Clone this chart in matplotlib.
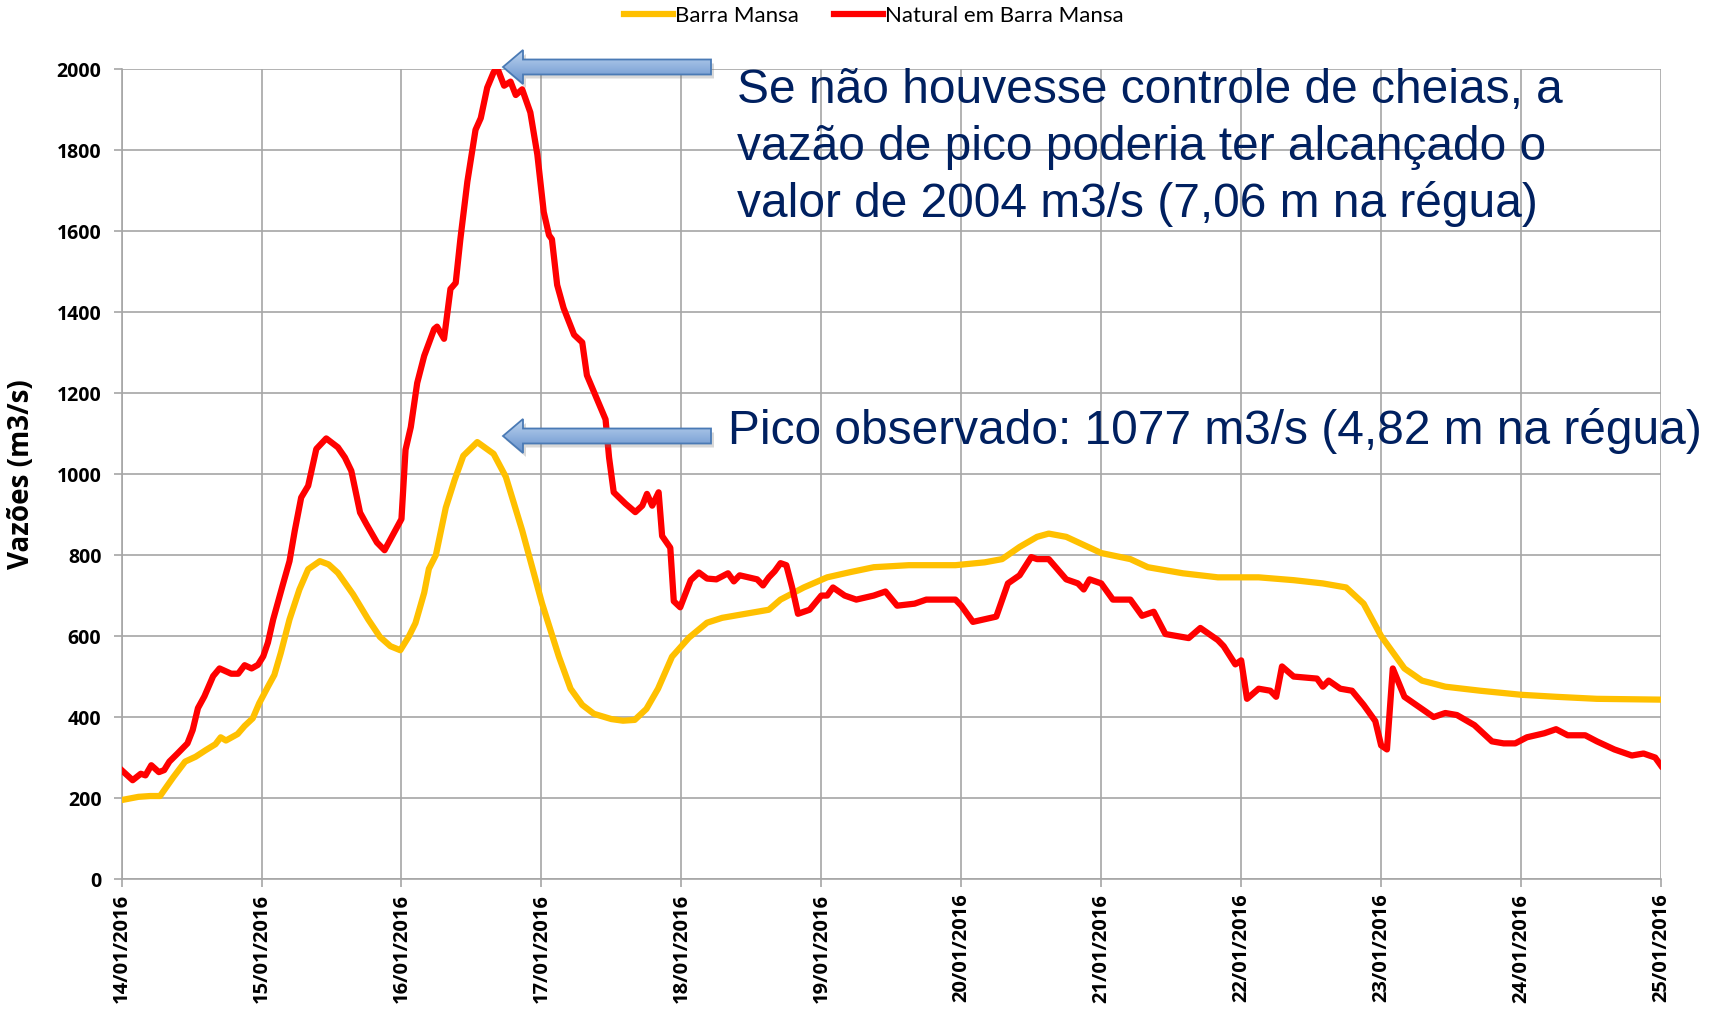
#!/usr/bin/env python
# encoding: utf-8

import numpy as np
import matplotlib
matplotlib.use("Agg")
import matplotlib.pyplot as plt
import matplotlib.dates as mdates
from matplotlib.patches import Polygon

# Hours since 14/01/2016 00:00 and flows (m3/s), 10 values per row
barra_mansa_h = [0, 2.9, 4.9, 6.6, 8.9, 10.9, 12.7, 14.4, 16.1, 17.0,
                 17.9, 19.9, 21.1, 22.5, 23.6, 25.1, 26.2, 27.3, 28.8, 30.5,
                 32.0, 34.0, 35.5, 37.1, 39.7, 42.3, 44.3, 46.1, 47.8, 49.3,
                 50.4, 51.9, 52.7, 53.9, 55.6, 57.1, 58.6, 61.0, 63.8, 65.9,
                 68.7, 72.1, 75.0, 77, 79, 81, 84, 86, 88, 90,
                 92, 94.4, 97.3, 100.4, 103, 107, 111, 113, 117, 121,
                 125, 129, 135, 143, 148, 151, 154, 157, 159, 162,
                 165, 168, 173, 176, 182, 188, 195, 201, 206, 210,
                 213, 216, 220, 223, 227, 233, 240, 246, 253, 264]
barra_mansa = [195, 203, 205, 205, 252, 290, 302, 318, 333, 350,
               342, 358, 378, 397, 434, 475, 504, 558, 641, 715,
               765, 785, 777, 756, 703, 641, 598, 575, 565, 600,
               632, 707, 766, 800, 917, 985, 1045, 1079, 1050, 993,
               861, 681, 549, 470, 430, 408, 395, 391, 393, 420,
               470, 549, 596, 633, 645, 655, 665, 690, 720, 745,
               758, 770, 775, 775, 782, 790, 820, 845, 853, 845,
               825, 805, 790, 770, 755, 745, 745, 738, 730, 720,
               680, 600, 520, 490, 475, 465, 455, 450, 445, 443]

natural_h = [0, 1.9, 3.3, 4.1, 5.1, 6.4, 7.3, 8.2, 9.6, 11.3,
             12.2, 13.1, 14.2, 15.7, 16.8, 18.8, 20.0, 21.1, 22.3, 23.4,
             24.3, 25.1, 26.0, 27.6, 28.8, 29.7, 30.8, 32.0, 33.4, 35.1,
             37.1, 38.3, 39.4, 40.9, 42.0, 43.8, 45.1, 46.9, 48.0, 48.7,
             49.6, 50.7, 51.9, 53.6, 54.1, 55.3, 56.4, 57.3, 58.1, 59.3,
             60.7, 61.6, 62.7, 63.8, 64.4, 65.6, 66.7, 67.6, 68.7, 70.1,
             71.3, 72.4, 73.3, 73.8, 74.7, 75.8, 77.6, 79.0, 79.8, 81.6,
             83.0, 83.6, 84.4, 86.4, 88.1, 89.3, 90.1, 91.0, 92.1, 92.7,
             94.1, 94.7, 95.8, 97.6, 99.0, 100.4, 102, 104, 105, 106,
             109, 110, 111, 112, 113, 114, 115, 116, 118, 120,
             121, 122, 124, 126, 129, 131, 133, 136, 138, 143,
             144, 146, 150, 152, 154, 156, 157, 159, 162, 164,
             165, 166, 168, 170, 173, 175, 177, 179, 183, 185,
             188, 189, 191, 192, 193, 195, 197, 198, 199, 201,
             205, 206, 207, 209, 211, 213, 215, 216, 217, 218,
             220, 222, 225, 227, 229, 232, 235, 237, 239, 241,
             244, 246, 248, 251, 253, 256, 259, 261, 263, 264]
natural = [269, 244, 260, 256, 281, 264, 269, 290, 310, 335,
           368, 422, 451, 501, 520, 507, 507, 528, 520, 529,
           550, 584, 641, 724, 785, 860, 942, 971, 1062, 1088,
           1066, 1041, 1008, 905, 876, 831, 812, 860, 889, 1060,
           1116, 1225, 1292, 1358, 1364, 1334, 1457, 1472, 1580, 1722,
           1850, 1879, 1954, 1992, 2004, 1959, 1969, 1936, 1950, 1893,
           1789, 1647, 1590, 1580, 1467, 1410, 1344, 1325, 1244, 1183,
           1135, 1041, 955, 927, 906, 922, 951, 922, 955, 847,
           818, 686, 671, 738, 757, 742, 740, 755, 735, 750,
           740, 725, 745, 760, 780, 775, 720, 655, 665, 700,
           700, 720, 700, 690, 700, 710, 675, 680, 690, 690,
           675, 635, 648, 730, 750, 795, 790, 790, 740, 730,
           715, 740, 730, 690, 690, 650, 660, 605, 595, 620,
           590, 575, 530, 540, 445, 470, 465, 450, 525, 500,
           495, 475, 490, 470, 465, 430, 390, 330, 320, 520,
           450, 430, 400, 410, 405, 380, 340, 335, 335, 350,
           360, 370, 355, 355, 340, 320, 305, 310, 300, 280]

start = np.datetime64("2016-01-14T00:00")
end = np.datetime64("2016-01-25T00:00")

W, H = 1717, 1016


def to_dates(hours):
	minutes = np.round(np.array(hours) * 60).astype(int)
	return start + minutes * np.timedelta64(1, "m")


def block_arrow(ov, x_tip, x_tail, y):
	# left-pointing block arrow in figure pixel coords (y grows downward)
	hl, hh, sh = 20, 17, 7.5
	pts = [(x_tip, y), (x_tip + hl, y - hh), (x_tip + hl, y - sh), (x_tail, y - sh),
		(x_tail, y + sh), (x_tip + hl, y + sh), (x_tip + hl, y + hh)]
	shadow = Polygon([(px + 3, py + 4) for px, py in pts], closed=True,
		fc="#808080", ec="none", alpha=0.3, zorder=1)
	ov.add_patch(shadow)
	body = Polygon(pts, closed=True, fc="none", ec="#4A7AB5", lw=1.3, zorder=3)
	ov.add_patch(body)
	top = np.array([0.74, 0.83, 0.94])
	bot = np.array([0.40, 0.57, 0.80])
	t = np.linspace(0, 1, 64)[:, None, None]
	grad = top * (1 - t) + bot * t
	im = ov.imshow(grad, extent=(x_tip, x_tail, y + hh, y - hh), aspect="auto",
		interpolation="bilinear", zorder=2)
	im.set_clip_path(body)


def make_graphic():
	plt.rcParams["font.family"] = ["Lato", "DejaVu Sans"]

	fig = plt.figure(figsize=(W / 100, H / 100), dpi=100)
	ax = fig.add_axes([0.0708, 0.1348, 0.8966, 0.7972])

	ax.plot(to_dates(barra_mansa_h), barra_mansa, color="#FFC000", lw=4.5,
		solid_joinstyle="round", label="Barra Mansa", zorder=3)
	ax.plot(to_dates(natural_h), natural, color="#FF0000", lw=4.5,
		solid_joinstyle="round", label="Natural em Barra Mansa", zorder=4)

	ax.set_xlim(start, end)
	ax.set_ylim(0, 2000)
	ax.set_yticks(range(0, 2001, 200))
	ax.xaxis.set_major_locator(mdates.DayLocator())
	ax.xaxis.set_major_formatter(mdates.DateFormatter("%d/%m/%Y"))

	grid_color = "#A6A6A6"
	ax.grid(True, color=grid_color, lw=1.2)
	ax.set_axisbelow(True)
	for side in ["left", "bottom"]:
		ax.spines[side].set_color(grid_color)
		ax.spines[side].set_linewidth(1.2)
	for side in ["top", "right"]:
		ax.spines[side].set_visible(False)
	ax.tick_params(axis="both", color=grid_color, length=5.5, width=1.2)
	ax.tick_params(axis="y", pad=9)
	ax.tick_params(axis="x", pad=5)
	for lbl in ax.get_xticklabels():
		lbl.set_rotation(90)
		lbl.set_fontweight("bold")
		lbl.set_family("Open Sans")
		lbl.set_fontsize(14.5)
	for lbl in ax.get_yticklabels():
		lbl.set_fontweight("bold")
		lbl.set_family("Open Sans")
		lbl.set_fontsize(14)
	ax.set_ylabel("Vazões (m3/s)", fontsize=20, fontweight="bold", family="Open Sans")
	ax.yaxis.set_label_coords(-0.0555, 0.5)

	# Legend on top
	fig.legend(loc="center", bbox_to_anchor=(0.509, 0.984), ncol=2, frameon=False,
		fontsize=16, handlelength=2.2, handletextpad=0.1, columnspacing=1.6)

	# Overlay in figure pixels for the block arrows
	ov = fig.add_axes([0, 0, 1, 1], zorder=5)
	ov.set_xlim(0, W)
	ov.set_ylim(H, 0)
	ov.axis("off")
	block_arrow(ov, 503, 711, 67)
	block_arrow(ov, 503, 711, 436)

	text_color = "#002060"
	fig.text(737 / W, 1 - 68 / H,
		"Se não houvesse controle de cheias, a\nvazão de pico poderia ter alcançado o\nvalor de 2004 m3/s (7,06 m na régua)",
		fontsize=34.5, family="Liberation Sans", color=text_color, va="top",
		linespacing=1.33, zorder=6)
	fig.text(728 / W, 1 - 431 / H,
		"Pico observado: 1077 m3/s (4,82 m na régua)",
		fontsize=34.5, family="Liberation Sans", color=text_color, va="center",
		zorder=6)

	plt.savefig("out.png", dpi=100)


if __name__ == '__main__':
	make_graphic()
